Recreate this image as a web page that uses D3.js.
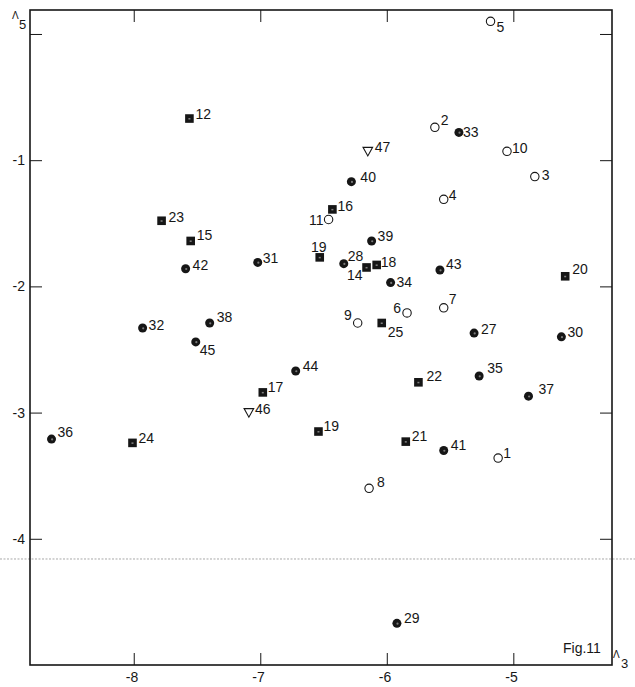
<!DOCTYPE html>
<html>
<head>
<meta charset="utf-8">
<script src="https://cdn.jsdelivr.net/npm/d3@7"></script>
<style>
  html, body { margin: 0; padding: 0; background: #fff; }
  svg { display: block; }
  text { font-family: "Liberation Sans", Arial, sans-serif; fill: #161616; }
</style>
</head>
<body>
<svg id="chart" width="635" height="687"></svg>
<script>
// Λ3 (horizontal) against Λ5 (vertical); each entry is [number, Λ3, Λ5]
const openCircles = [
  [1, -5.12, -3.36], [2, -5.62, -0.74], [3, -4.83, -1.13], [4, -5.55, -1.31],
  [5, -5.18, 0.10], [6, -5.84, -2.21], [7, -5.55, -2.17], [8, -6.14, -3.60],
  [9, -6.23, -2.29], [10, -5.05, -0.93], [11, -6.46, -1.47]
];
const filledCircles = [
  [27, -5.31, -2.37], [28, -6.34, -1.82], [29, -5.92, -4.67], [30, -4.62, -2.40],
  [31, -7.02, -1.81], [32, -7.93, -2.33], [33, -5.43, -0.78], [34, -5.97, -1.97],
  [35, -5.27, -2.71], [36, -8.65, -3.21], [37, -4.88, -2.87], [38, -7.40, -2.29],
  [39, -6.12, -1.64], [40, -6.28, -1.17], [41, -5.55, -3.30], [42, -7.59, -1.86],
  [43, -5.58, -1.87], [44, -6.72, -2.67], [45, -7.51, -2.44]
];
const filledSquares = [
  [12, -7.56, -0.67], [14, -6.16, -1.85], [15, -7.55, -1.64], [16, -6.43, -1.39],
  [17, -6.98, -2.84], [18, -6.08, -1.83], [19, -6.53, -1.77], [19, -6.54, -3.15],
  [20, -4.59, -1.92], [21, -5.85, -3.23], [22, -5.75, -2.76], [23, -7.78, -1.48],
  [24, -8.01, -3.24], [25, -6.04, -2.29]
];
const openTriangles = [
  [46, -7.09, -3.00], [47, -6.15, -0.93]
];

const xTicks = [-8, -7, -6, -5];
const yTicks = [0, -1, -2, -3, -4];
const xDomain = [-8.82, -4.22];
const yDomain = [-5.0, 0.19];
const foldLineValue = -4.16;

// label offsets from the marker centre: [dx, dy, anchor]
const openLabelPos = [[5,0],[6,-2],[7,3],[5,1],[6,11],[-6,0,"end"],[5,-4],[8,-1],[-6,-3,"end"],[5,2],[-5,6,"end"]];
const filledLabelPos = [[7,1],[4,-3],[7,0],[6,0],[5,1],[6,2],[4,5],[6,4],[8,-3],[6,-2],[10,-2],[7,-1],[6,0],[9,0],[7,0],[7,1],[6,-1],[7,0],[4,13]];
const squareLabelPos = [[6,0],[-4,13,"end"],[6,-1],[5,2],[5,0],[4,2],[-1,-5,"middle"],[5,-1],[7,-2],[6,-1],[8,-1],[7,1],[6,0],[6,14]];
const triangleLabelPos = [[6,1],[7,1]];

const svg = d3.select("#chart");
const W = 635;
const m = { left: 30, right: 612, top: 10, bottom: 665 };

const x = d3.scaleLinear().domain(xDomain).range([m.left, m.right]);
const y = d3.scaleLinear().domain(yDomain).range([m.bottom, m.top]);
const ink = "#161616";

// faint dotted fold line across the page
svg.append("line")
  .attr("x1", 0).attr("x2", W)
  .attr("y1", y(foldLineValue)).attr("y2", y(foldLineValue))
  .attr("stroke", "#a8a8a8").attr("stroke-width", 1)
  .attr("stroke-dasharray", "2,1.5");

// frame
svg.append("rect")
  .attr("x", x(xDomain[0])).attr("y", y(yDomain[1]))
  .attr("width", x(xDomain[1]) - x(xDomain[0]))
  .attr("height", y(yDomain[0]) - y(yDomain[1]))
  .attr("fill", "none").attr("stroke", ink).attr("stroke-width", 1.6);

// axes with inward ticks
const fmt = d => d === 0 ? "" : "-" + Math.abs(d);
const styleAxis = g => {
  g.select(".domain").remove();
  g.selectAll(".tick line").attr("stroke", ink).attr("stroke-width", 1);
  g.selectAll(".tick text").attr("fill", ink)
    .style("font-family", "'Liberation Sans', Arial, sans-serif").style("font-size", "14px");
};

svg.append("g").attr("transform", `translate(0,${m.bottom})`)
  .call(d3.axisBottom(x).tickValues(xTicks).tickSize(-12).tickPadding(7).tickFormat(fmt))
  .call(styleAxis)
  .call(g => g.selectAll(".tick text").attr("text-anchor", "end").attr("dx", "4"));

svg.append("g").attr("transform", `translate(0,${m.top})`)
  .call(d3.axisTop(x).tickValues(xTicks).tickSize(-12).tickFormat(""))
  .call(styleAxis);

svg.append("g").attr("transform", `translate(${m.left},0)`)
  .call(d3.axisLeft(y).tickValues(yTicks).tickSize(-12).tickPadding(5).tickFormat(fmt))
  .call(styleAxis);

svg.append("g").attr("transform", `translate(${m.right},0)`)
  .call(d3.axisRight(y).tickValues(yTicks).tickSize(-12).tickFormat(""))
  .call(styleAxis);

// axis titles
const t5 = svg.append("text").attr("x", 12).attr("y", 19);
t5.append("tspan").style("font-size", "10px").text("Λ");
t5.append("tspan").attr("x", 19).attr("y", 29).style("font-size", "13px").text("5");

const t3 = svg.append("text").attr("x", 613).attr("y", 658);
t3.append("tspan").style("font-size", "10px").text("Λ");
t3.append("tspan").attr("x", 621).attr("y", 668).style("font-size", "13px").text("3");

svg.append("text").attr("x", 563).attr("y", 653)
  .style("font-size", "14px").text("Fig.11");

// markers
const pts = svg.append("g");

pts.selectAll("circle.open").data(openCircles).join("circle")
  .attr("class", "open")
  .attr("cx", d => x(d[1])).attr("cy", d => y(d[2])).attr("r", 4.2)
  .attr("fill", "#fff").attr("stroke", ink).attr("stroke-width", 1.1);

const fc = pts.selectAll("g.filled").data(filledCircles).join("g")
  .attr("class", "filled")
  .attr("transform", d => `translate(${x(d[1])},${y(d[2])})`);
fc.append("circle").attr("r", 4.5).attr("fill", ink);
fc.append("circle").attr("r", 1.1).attr("cx", 0.6).attr("cy", 0.3).attr("fill", "#7a7a7a");

const sq = pts.selectAll("g.square").data(filledSquares).join("g")
  .attr("class", "square")
  .attr("transform", d => `translate(${x(d[1])},${y(d[2])})`);
sq.append("rect").attr("x", -4.3).attr("y", -4.3).attr("width", 8.6).attr("height", 8.6).attr("fill", ink);
sq.append("rect").attr("x", -1).attr("y", -0.5).attr("width", 2).attr("height", 1.5).attr("fill", "#808080");

pts.selectAll("path.tri").data(openTriangles).join("path")
  .attr("class", "tri")
  .attr("transform", d => `translate(${x(d[1])},${y(d[2])})`)
  .attr("d", "M-4.8,-4 L4.8,-4 L0,4.6 Z")
  .attr("fill", "#fff").attr("stroke", ink).attr("stroke-width", 1.1);

// point numbers
function addLabels(data, pos) {
  svg.append("g").selectAll("text").data(data).join("text")
    .attr("x", (d, i) => x(d[1]) + pos[i][0])
    .attr("y", (d, i) => y(d[2]) + pos[i][1])
    .attr("text-anchor", (d, i) => pos[i][2] || "start")
    .style("font-size", "14px")
    .text(d => d[0]);
}
addLabels(openCircles, openLabelPos);
addLabels(filledCircles, filledLabelPos);
addLabels(filledSquares, squareLabelPos);
addLabels(openTriangles, triangleLabelPos);
</script>
</body>
</html>
